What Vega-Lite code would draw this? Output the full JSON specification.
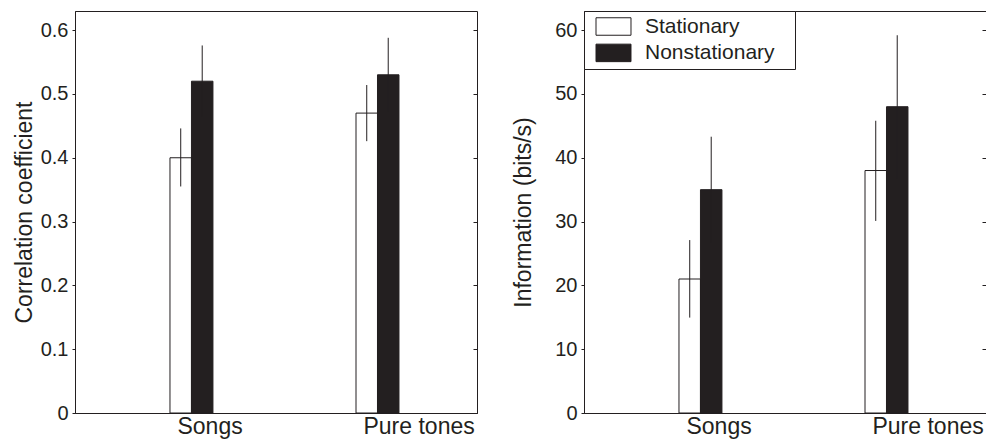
{
  "$schema": "https://vega.github.io/schema/vega-lite/v6.json",
  "background": "white",
  "padding": {"left": 12, "top": 10, "right": 0, "bottom": 0},
  "config": {
    "font": "Liberation Sans",
    "view": {"stroke": "#231f20", "strokeWidth": 1},
    "axis": {"labelColor": "#231f20", "titleColor": "#231f20", "domainColor": "#231f20", "tickColor": "#231f20", "grid": false, "titleFontWeight": "normal"},
    "concat": {"spacing": 34}
  },
  "datasets": {
    "corr": [
      {"stimulus": "Songs", "condition": "Stationary", "value": 0.40, "lo": 0.355, "hi": 0.446},
      {"stimulus": "Songs", "condition": "Nonstationary", "value": 0.52, "lo": 0.464, "hi": 0.576},
      {"stimulus": "Pure tones", "condition": "Stationary", "value": 0.47, "lo": 0.426, "hi": 0.514},
      {"stimulus": "Pure tones", "condition": "Nonstationary", "value": 0.53, "lo": 0.472, "hi": 0.588}
    ],
    "info": [
      {"stimulus": "Songs", "condition": "Stationary", "value": 21, "lo": 14.95, "hi": 27.1},
      {"stimulus": "Songs", "condition": "Nonstationary", "value": 35, "lo": 26.7, "hi": 43.3},
      {"stimulus": "Pure tones", "condition": "Stationary", "value": 38, "lo": 30.1, "hi": 45.8},
      {"stimulus": "Pure tones", "condition": "Nonstationary", "value": 48, "lo": 36.8, "hi": 59.2}
    ]
  },
  "hconcat": [
    {
      "width": 402,
      "height": 402,
      "data": {"name": "corr"},
      "layer": [
        {
          "mark": {"type": "bar", "stroke": "#231f20", "strokeWidth": 1},
          "encoding": {
            "x": {"field": "stimulus", "type": "nominal", "sort": ["Songs", "Pure tones"],
              "scale": {"paddingInner": 0.769, "paddingOuter": 0.465, "align": 0.549},
              "axis": {"title": null, "labelAngle": 0, "labelFontSize": 23, "labelAlign": "left", "labelOffset": -14, "ticks": false, "labelPadding": 2}},
            "xOffset": {"field": "condition", "type": "nominal", "sort": ["Stationary", "Nonstationary"], "scale": {"paddingInner": 0, "paddingOuter": 0}},
            "y": {"field": "value", "type": "quantitative", "scale": {"domain": [0, 0.63], "nice": false},
              "axis": {"title": "Correlation coefficient", "values": [0, 0.1, 0.2, 0.3, 0.4, 0.5, 0.6],
                "labelExpr": "datum.value == 0 ? '0' : format(datum.value, '.1f')",
                "labelFontSize": 20, "titleFontSize": 23, "tickSize": 3, "labelPadding": 4, "titlePadding": 4}},
            "fill": {"field": "condition", "type": "nominal", "scale": {"domain": ["Stationary", "Nonstationary"], "range": ["white", "#231f20"]}, "legend": null}
          }
        },
        {
          "mark": {"type": "rule", "stroke": "#231f20", "strokeWidth": 1},
          "encoding": {
            "x": {"field": "stimulus", "type": "nominal", "sort": ["Songs", "Pure tones"]},
            "xOffset": {"field": "condition", "type": "nominal", "sort": ["Stationary", "Nonstationary"]},
            "y": {"field": "lo", "type": "quantitative",
              "axis": {"orient": "right", "labels": false, "title": null, "domain": false, "tickSize": -4, "values": [0, 0.1, 0.2, 0.3, 0.4, 0.5, 0.6]}},
            "y2": {"field": "hi"}
          }
        }
      ],
      "resolve": {"axis": {"y": "independent"}}
    },
    {
      "width": 402,
      "height": 402,
      "data": {"name": "info"},
      "layer": [
        {
          "mark": {"type": "bar", "stroke": "#231f20", "strokeWidth": 1},
          "encoding": {
            "x": {"field": "stimulus", "type": "nominal", "sort": ["Songs", "Pure tones"],
              "scale": {"paddingInner": 0.769, "paddingOuter": 0.465, "align": 0.549},
              "axis": {"title": null, "labelAngle": 0, "labelFontSize": 23, "labelAlign": "left", "labelOffset": -14, "ticks": false, "labelPadding": 2}},
            "xOffset": {"field": "condition", "type": "nominal", "sort": ["Stationary", "Nonstationary"], "scale": {"paddingInner": 0, "paddingOuter": 0}},
            "y": {"field": "value", "type": "quantitative", "scale": {"domain": [0, 63], "nice": false},
              "axis": {"title": "Information (bits/s)", "values": [0, 10, 20, 30, 40, 50, 60],
                "labelFontSize": 20, "titleFontSize": 23, "tickSize": 3, "labelPadding": 4, "titlePadding": 19}},
            "fill": {"field": "condition", "type": "nominal", "scale": {"domain": ["Stationary", "Nonstationary"], "range": ["white", "#231f20"]},
              "legend": {"title": null, "orient": "none", "legendX": 0, "legendY": 0, "padding": 5, "symbolOffset": 14,
                "symbolType": "M-2,-1H2V1H-2Z", "symbolSize": 306, "symbolStrokeColor": "#231f20", "symbolStrokeWidth": 1,
                "labelFontSize": 21, "labelColor": "#231f20", "labelOffset": 21, "labelExpr": "datum.label + '\u2800'",
                "strokeColor": "#231f20", "fillColor": "white", "rowPadding": 3.4}}
          }
        },
        {
          "mark": {"type": "rule", "stroke": "#231f20", "strokeWidth": 1},
          "encoding": {
            "x": {"field": "stimulus", "type": "nominal", "sort": ["Songs", "Pure tones"]},
            "xOffset": {"field": "condition", "type": "nominal", "sort": ["Stationary", "Nonstationary"]},
            "y": {"field": "lo", "type": "quantitative",
              "axis": {"orient": "right", "labels": false, "title": null, "domain": false, "tickSize": -4, "values": [0, 10, 20, 30, 40, 50, 60]}},
            "y2": {"field": "hi"}
          }
        }
      ],
      "resolve": {"axis": {"y": "independent"}}
    }
  ],
  "resolve": {"scale": {"fill": "independent"}, "legend": {"fill": "independent"}}
}
